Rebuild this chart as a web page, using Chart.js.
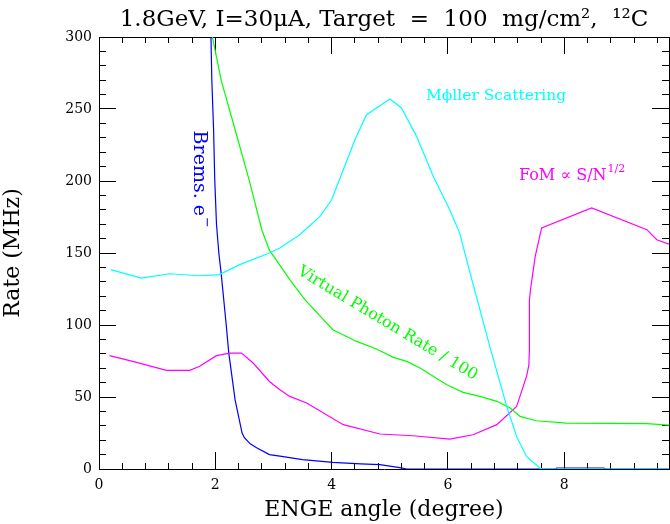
<!DOCTYPE html>
<html>
<head>
<meta charset="utf-8">
<script src="https://cdn.jsdelivr.net/npm/chart.js@4.4.0/dist/chart.umd.min.js"></script>
<style>
  html, body { margin: 0; padding: 0; background: #fff; }
  #wrap { width: 670px; height: 524px; }
</style>
</head>
<body>
<div id="wrap"><canvas id="rateChart" width="670" height="524"></canvas></div>
<script>
// values (angle in degrees, rate in MHz)
const bremsX = [1.92, 1.94, 1.97, 1.99, 2.02, 2.06, 2.10, 2.19, 2.23, 2.34, 2.46, 2.50, 2.60, 2.71, 2.93, 3.11, 3.50, 4.02, 4.50, 4.83, 5.17, 5.29, 7.85, 7.87, 8.68, 8.70, 9.80];
const bremsY = [310, 270, 236, 201, 170, 150, 136, 99, 81, 48, 25, 21.7, 17.5, 14.8, 10, 9, 6.5, 4.6, 3.6, 3, 1, 0, 0, 0.7, 0.7, 0, 0];

const photonX = [1.94, 1.95, 2.10, 2.34, 2.58, 2.80, 2.93, 3.28, 3.54, 4.02, 4.43, 4.77, 5.06, 5.29, 5.52, 5.98, 6.26, 6.55, 6.84, 7.07, 7.24, 7.52, 8.04, 9.42, 9.80];
const photonY = [310, 300, 270, 235.6, 201, 166, 152, 131.5, 117.6, 96.7, 88.6, 83.3, 77.5, 74.7, 70.1, 58.5, 53.2, 50.4, 47, 42.4, 36.5, 33.5, 31.9, 31.5, 30.5];

const mollerX = [0.20, 0.73, 1.21, 1.73, 2.07, 2.42, 2.93, 3.11, 3.45, 3.80, 4.00, 4.20, 4.40, 4.60, 5.00, 5.20, 5.46, 5.75, 6.03, 6.20, 6.41, 6.72, 7.01, 7.18, 7.35, 7.58, 7.62, 9.80];
const mollerY = [138.4, 132.6, 135.6, 134.2, 135, 141.9, 150, 153.5, 162.7, 175.4, 187, 207.8, 228.7, 246, 257, 250.7, 231, 203, 180, 164, 131.5, 85, 43.5, 22.6, 8.7, 0.7, 0, 0];

const fomX = [0.18, 0.58, 1.16, 1.56, 1.73, 2.02, 2.25, 2.45, 2.65, 2.93, 3.11, 3.28, 3.57, 4.20, 4.83, 5.40, 6.03, 6.43, 6.84, 7.18, 7.35, 7.39, 7.40, 7.40, 7.42, 7.50, 7.61, 8.47, 9.42, 9.59, 9.80];
const fomY = [78.7, 74.7, 68.5, 68.5, 71.3, 78.7, 80.5, 80.5, 73.6, 60.8, 55, 50.4, 45.8, 30.8, 24.3, 23.1, 20.8, 23.8, 30.8, 43.5, 64.3, 72, 82, 117, 125, 147.6, 167.4, 181.3, 166.2, 159.2, 156.2];

const xMajor = [0, 2, 4, 6, 8];
const yMajor = [0, 50, 100, 150, 200, 250, 300];
const xMinor = [0.4, 0.8, 1.2, 1.6, 2.4, 2.8, 3.2, 3.6, 4.4, 4.8, 5.2, 5.6, 6.4, 6.8, 7.2, 7.6, 8.4, 8.8, 9.2, 9.6];
const yMinor = [10, 20, 30, 40, 60, 70, 80, 90, 110, 120, 130, 140, 160, 170, 180, 190, 210, 220, 230, 240, 260, 270, 280, 290];

const pts = (xs, ys) => xs.map((x, i) => ({ x: x, y: ys[i] }));
const serif = '"DejaVu Serif"';

// inward tick marks: negative tick length turns chart.js ticks into the plot
const inTicks = len => ({
  display: true, drawOnChartArea: false, drawTicks: true,
  tickLength: -len, color: '#000', tickColor: '#000', lineWidth: 1, tickWidth: 1,
});
const setTicks = vals => s => { s.ticks = vals.map(v => ({ value: v })); };
const axisLine = on => ({ display: on, color: '#000', width: 1 });

// extra axes carrying only tick marks (top, right and the minor ticks)
const bare = (pos, min, max, vals, len, border) => ({
  type: 'linear', position: pos, min: min, max: max, weight: -1,
  grid: inTicks(len),
  border: axisLine(border),
  ticks: { display: false },
  afterBuildTicks: setTicks(vals),
  afterFit: s => { if (pos === 'top' || pos === 'bottom') s.height = 0; else s.width = 0; },
});

const labels = {
  id: 'curveLabels',
  afterDatasetsDraw(chart) {
    const ctx = chart.ctx;
    const a = chart.chartArea;
    const px = v => chart.scales.x.getPixelForValue(v);
    const py = v => chart.scales.y.getPixelForValue(v);
    ctx.save();
    ctx.textBaseline = 'alphabetic';

    // title
    ctx.fillStyle = '#000';
    ctx.textAlign = 'center';
    ctx.font = '23px "DejaVu Serif"';
    ctx.fillText('1.8GeV, I=30\u03BCA, Target  =  100  mg/cm\u00B2,  \u00B9\u00B2C', (a.left + a.right) / 2, 26);

    ctx.textAlign = 'left';
    // Moller
    ctx.fillStyle = '#00ffff';
    ctx.font = '15.5px "DejaVu Serif"';
    ctx.fillText('M\u03D5ller Scattering', px(5.62), py(256.5));

    // FoM
    ctx.fillStyle = '#ff00ff';
    ctx.font = '16px "DejaVu Serif"';
    const fomTxt = 'FoM \u221D S/N';
    ctx.fillText(fomTxt, px(7.22), py(200.4));
    const w = ctx.measureText(fomTxt).width;
    ctx.font = '11px "DejaVu Serif"';
    ctx.fillText('1/2', px(7.22) + w + 1, py(200.4) - 8);

    // Brems, rotated to read downwards
    ctx.fillStyle = '#0000ff';
    ctx.save();
    ctx.translate(px(1.63), py(235));
    ctx.rotate(Math.PI / 2);
    ctx.font = '19px "DejaVu Serif"';
    ctx.fillText('Brems. e', 0, 0);
    const bw = ctx.measureText('Brems. e').width;
    ctx.font = '13px "DejaVu Serif"';
    ctx.fillText('\u2212', bw + 1, -9);
    ctx.restore();

    // Virtual photon
    ctx.fillStyle = '#00ff00';
    ctx.save();
    ctx.translate(px(3.40), py(135.6));
    ctx.rotate(31 * Math.PI / 180);
    ctx.font = '16px "DejaVu Serif"';
    ctx.fillText('Virtual Photon Rate / 100', 0, 0);
    ctx.restore();

    ctx.restore();
  }
};

new Chart(document.getElementById('rateChart').getContext('2d'), {
  type: 'line',
  data: {
    datasets: [
      { data: pts(bremsX, bremsY), borderColor: '#0000ff', order: 4 },
      { data: pts(fomX, fomY), borderColor: '#ff00ff', order: 3 },
      { data: pts(photonX, photonY), borderColor: '#00ff00', order: 2 },
      { data: pts(mollerX, mollerY), borderColor: '#00ffff', order: 1 },
    ],
  },
  options: {
    responsive: false,
    animation: false,
    layout: { padding: { top: 37, right: 1, left: 0, bottom: 0 } },
    elements: {
      point: { radius: 0 },
      line: { borderWidth: 1.2, tension: 0, fill: false },
    },
    plugins: { legend: { display: false }, tooltip: { enabled: false } },
    scales: {
      x: {
        type: 'linear',
        position: 'bottom',
        min: 0,
        max: 9.8,
        grid: inTicks(17),
        border: axisLine(true),
        afterBuildTicks: setTicks(xMajor),
        afterFit: s => { s.height = 55; },
        ticks: { color: '#000', font: { family: serif, size: 14 }, padding: 25, maxRotation: 0, autoSkip: false },
        title: { display: true, text: 'ENGE angle (degree)', color: '#000', font: { family: serif, size: 22 }, padding: { top: 0, bottom: 1 } },
      },
      y: {
        type: 'linear',
        position: 'left',
        min: 0,
        max: 300,
        grid: inTicks(17),
        border: axisLine(true),
        afterBuildTicks: setTicks(yMajor),
        afterFit: s => { s.width = 99; },
        ticks: { color: '#000', font: { family: serif, size: 14 }, padding: 24, autoSkip: false },
        title: { display: true, text: 'Rate (MHz)', color: '#000', font: { family: serif, size: 22 }, padding: { top: 0, bottom: 0 } },
      },
      xMinorB: bare('bottom', 0, 9.8, xMinor, 6, false),
      xTop: bare('top', 0, 9.8, xMajor, 17, true),
      xMinorT: bare('top', 0, 9.8, xMinor, 6, false),
      yMinorL: bare('left', 0, 300, yMinor, 7, false),
      yRight: bare('right', 0, 300, yMajor, 17, true),
      yMinorR: bare('right', 0, 300, yMinor, 7, false),
    },
  },
  plugins: [labels],
});
</script>
</body>
</html>
